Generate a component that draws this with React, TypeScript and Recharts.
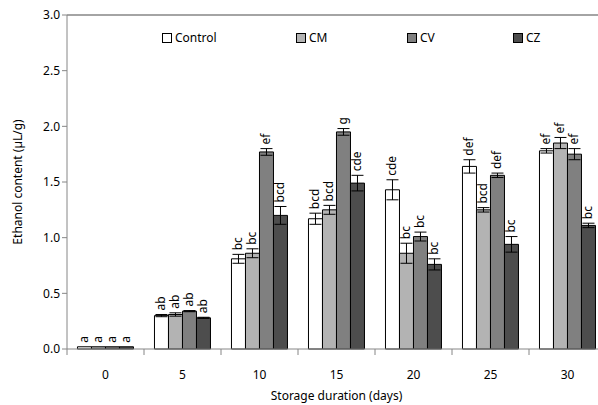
import {
  Bar,
  BarChart,
  ErrorBar,
  LabelList,
  ReferenceLine,
  XAxis,
  YAxis,
} from "recharts";

const days = ["0", "5", "10", "15", "20", "25", "30"];

const control = [0.02, 0.3, 0.81, 1.17, 1.43, 1.64, 1.78];
const cm = [0.02, 0.31, 0.86, 1.25, 0.86, 1.25, 1.85];
const cv = [0.02, 0.34, 1.77, 1.95, 1.01, 1.56, 1.75];
const cz = [0.02, 0.28, 1.2, 1.49, 0.76, 0.94, 1.11];

const controlErr = [0, 0.01, 0.04, 0.05, 0.09, 0.06, 0.02];
const cmErr = [0, 0.015, 0.04, 0.04, 0.09, 0.02, 0.05];
const cvErr = [0, 0.005, 0.03, 0.03, 0.04, 0.02, 0.05];
const czErr = [0, 0.005, 0.08, 0.07, 0.05, 0.07, 0.02];

const controlLetters = ["a", "ab", "bc", "bcd", "cde", "def", "ef"];
const cmLetters = ["a", "ab", "bc", "bcd", "bc", "bcd", "ef"];
const cvLetters = ["a", "ab", "ef", "g", "bc", "def", "ef"];
const czLetters = ["a", "ab", "bcd", "cde", "bc", "bc", "bc"];

const data = days.map((d, i) => ({
  day: d,
  control: control[i],
  cm: cm[i],
  cv: cv[i],
  cz: cz[i],
  controlErr: controlErr[i],
  cmErr: cmErr[i],
  cvErr: cvErr[i],
  czErr: czErr[i],
}));

const FONT = "'Noto Sans', sans-serif";
const AXIS = "#868686";
const WIDTH = 620;
const HEIGHT = 405;
const LEFT = 67;
const RIGHT = 14;
const BAND = (WIDTH - LEFT - RIGHT) / days.length;
const PX_PER_UNIT = 334 / 3;

const series = [
  { key: "control", name: "Control", fill: "#ffffff", err: controlErr, letters: controlLetters },
  { key: "cm", name: "CM", fill: "#b3b3b3", err: cmErr, letters: cmLetters },
  { key: "cv", name: "CV", fill: "#808080", err: cvErr, letters: cvLetters },
  { key: "cz", name: "CZ", fill: "#4d4d4d", err: czErr, letters: czLetters },
];

const legendX = [162, 296, 407, 513];

function makeLabel(err: number[], letters: string[]) {
  return (props: any) => {
    const { x, y, width, index } = props;
    const cx = x + width / 2 + 4;
    const top = y - err[index] * PX_PER_UNIT - 4;
    return (
      <text
        x={cx}
        y={top}
        transform={`rotate(-90 ${cx} ${top})`}
        fontSize={12}
        fontFamily={FONT}
        fill="#000"
        textAnchor="start"
      >
        {letters[index]}
      </text>
    );
  };
}

function DayTick(props: any) {
  const { x, y, payload, index } = props;
  return (
    <g>
      <line x1={x - BAND / 2} x2={x - BAND / 2} y1={y - 8} y2={y - 2} stroke={AXIS} />
      {index === days.length - 1 && (
        <line x1={x + BAND / 2} x2={x + BAND / 2} y1={y - 8} y2={y - 2} stroke={AXIS} />
      )}
      <text x={x} y={y + 22} textAnchor="middle" fontSize={12} fontFamily={FONT} fill="#000">
        {payload.value}
      </text>
    </g>
  );
}

export default function App() {
  return (
    <div
      style={{
        position: "absolute",
        left: 0,
        top: 0,
        width: 598,
        height: 405,
        overflow: "hidden",
        background: "#fff",
      }}
    >
      <BarChart
        width={WIDTH}
        height={HEIGHT}
        data={data}
        margin={{ top: 15, right: RIGHT, bottom: 0, left: 0 }}
        barCategoryGap="13.6%"
        barGap={0}
      >
        <XAxis
          dataKey="day"
          tickLine={false}
          stroke={AXIS}
          height={56}
          tick={<DayTick />}
          label={{
            value: "Storage duration (days)",
            position: "insideBottom",
            offset: 5,
            fontSize: 12,
            fontFamily: FONT,
            fill: "#000",
          }}
        />
        <YAxis
          width={LEFT}
          domain={[0, 3]}
          ticks={[0, 0.5, 1, 1.5, 2, 2.5, 3]}
          tickFormatter={(v: number) => v.toFixed(1)}
          stroke={AXIS}
          tickSize={5}
          tick={{ fontSize: 12, fontFamily: FONT, fill: "#000" }}
          label={{
            value: "Ethanol content (µL/g)",
            angle: -90,
            position: "insideLeft",
            offset: 18,
            style: { textAnchor: "middle" },
            fontSize: 12,
            fontFamily: FONT,
            fill: "#000",
          }}
        />
        <ReferenceLine y={3} stroke={AXIS} strokeWidth={1.5} />
        {series.map((s) => (
          <Bar
            key={s.key}
            dataKey={s.key}
            name={s.name}
            fill={s.fill}
            stroke="#000"
            strokeWidth={1}
            isAnimationActive={false}
          >
            <ErrorBar dataKey={`${s.key}Err`} width={6} stroke="#000" strokeWidth={1} />
            <LabelList dataKey={s.key} content={makeLabel(s.err, s.letters)} />
          </Bar>
        ))}
      </BarChart>
      {series.map((s, i) => (
        <div
          key={s.key}
          style={{
            position: "absolute",
            left: legendX[i],
            top: 31,
            display: "flex",
            alignItems: "center",
            fontFamily: FONT,
            fontSize: 12,
            lineHeight: "14px",
          }}
        >
          <span
            style={{
              display: "inline-block",
              width: 8,
              height: 8,
              border: "1px solid #000",
              background: s.fill,
              marginRight: 3,
            }}
          />
          {s.name}
        </div>
      ))}
    </div>
  );
}
